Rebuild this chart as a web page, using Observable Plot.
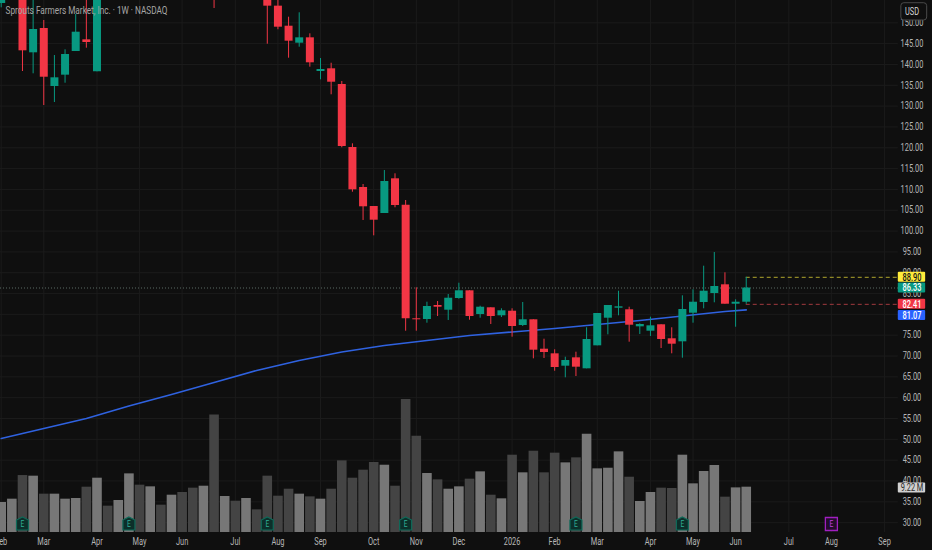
<!DOCTYPE html>
<html><head><meta charset="utf-8">
<style>html,body{margin:0;padding:0;background:#0f0f0f;overflow:hidden}svg{display:block}</style>
<script src="https://cdn.jsdelivr.net/npm/d3@7"></script>
<script src="https://cdn.jsdelivr.net/npm/@observablehq/plot@0.6"></script>
</head><body><div id="chart"></div>
<script>
const title = "Sprouts Farmers Market, Inc. · 1W · NASDAQ";
const firstWeek = "2025-02-03";
const opens = [154.64,158,158,142.80,148.64,134.71,137.43,143.11,145.92,138.24,162,158,161,167,164,167,165,168,166,164,167,160,163,161,164,160,154.0,149.19,145.11,146.40,138.31,138.96,135.19,120.07,110.46,105.90,104.22,112.55,106.21,78.94,78.77,82.13,81.00,83.81,85.66,79.97,81.58,79.66,80.76,77.33,78.70,71.64,70.53,67.56,69.57,66.93,72.45,79.08,81.48,81.10,77.01,75.96,77.50,74.14,73.41,80.28,82.85,85.01,87.10,82.44,82.92];
const closes = [158,165,143.28,148.40,136.94,136.80,142.39,147.75,145.28,162,158,161,167,164,167,165,168,166,164,167,160,163,161,164,160,154.0,148.95,145.59,146.40,140.40,138.79,135.74,120.31,109.91,105.83,102.61,111.90,106.14,78.94,78.70,81.89,81.72,83.88,85.66,79.49,81.72,79.49,80.86,77.09,78.70,71.40,70.85,67.24,68.92,67.32,73.97,80.21,82.13,81.82,77.40,77.57,77.25,73.97,72.84,81.17,82.92,85.56,86.69,82.44,82.92,86.33];
const highs = [160,167,160,157,150.56,142.15,143.52,152.00,157,164,165,163,169,170,169,169,170,171,168,170,169,166,165,167,166,162,155.5,151.35,152.41,147.36,141.43,140.30,135.91,120.95,111.18,105.90,114.54,113.75,107.34,86.38,82.92,83.09,84.77,87.48,85.66,81.96,81.58,81.34,81.34,82.85,78.70,74.04,71.49,69.72,70.92,76.78,80.21,82.13,85.56,81.72,77.74,79.32,77.50,76.78,84.46,85.90,91.57,94.86,89.98,83.50,88.90];
const lows = [153.6,157,138.31,137.76,130.15,130.87,135.50,143.11,143.91,138.24,156,156,158,162,162,163,163,164,161,162,153.44,158,157,159,157,144.87,148.33,141.51,144.15,139.35,136.32,132.72,120.0,109.33,102.54,98.86,104.22,105.59,75.96,75.96,77.88,79.49,78.53,83.64,78.60,79.08,77.57,79.25,74.52,77.09,69.33,69.40,66.35,64.77,65.08,66.93,72.45,75.09,79.66,73.32,75.17,74.69,71.80,70.53,69.48,77.88,81.34,82.78,82.44,76.92,82.41];
const volumes = [6.10,6.78,11.59,11.46,7.80,7.80,6.78,6.92,9.22,11.05,5.36,6.51,11.93,9.63,9.29,5.56,7.59,8.14,9.02,9.42,23.93,7.32,6.37,6.92,4.61,11.46,7.39,8.81,7.80,7.25,6.78,8.81,14.58,11.05,12.68,14.24,13.69,9.42,27.05,19.59,12.0,10.71,8.81,9.29,10.85,12.34,7.59,6.85,15.73,12.14,16.54,12.14,16.14,14.17,15.19,20.0,12.95,13.08,16.41,11.25,6.31,8.14,9.02,8.95,15.73,9.90,12.41,13.63,7.19,9.08,9.22];
const maDates = ["2025-02-03","2025-03-03","2025-03-31","2025-04-28","2025-05-26","2025-06-23","2025-07-21","2025-08-18","2025-09-15","2025-10-13","2025-11-10","2025-12-08","2026-01-05","2026-02-02","2026-03-02","2026-03-30","2026-04-27","2026-05-25","2026-06-08"];
const maValues = [50.2,52.6,55.0,58.0,60.76,63.64,66.52,68.92,70.96,72.53,73.72,74.93,75.77,76.61,77.57,78.53,79.61,80.69,81.07];
const priceTicks = d3.range(30,151,5);
const monthDates = ["2025-02-03","2025-03-03","2025-04-07","2025-05-05","2025-06-02","2025-07-07","2025-08-04","2025-09-01","2025-10-06","2025-11-03","2025-12-01","2026-01-05","2026-02-02","2026-03-02","2026-04-06","2026-05-04","2026-06-01","2026-07-06","2026-08-03","2026-09-07"];
const monthLabels = ["Feb","Mar","Apr","May","Jun","Jul","Aug","Sep","Oct","Nov","Dec","2026","Feb","Mar","Apr","May","Jun","Jul","Aug","Sep"];
const earningsPast = ["2025-02-17","2025-04-28","2025-07-28","2025-10-27","2026-02-16","2026-04-27"];
const earningsNext = ["2026-08-03"];
const priceLabels = [88.90,86.33,82.41,81.07];
const priceLabelFill = ["#ffeb3b","#089981","#f23645","#2962ff"];
const priceLabelText = ["#131313","#ffffff","#ffffff","#ffffff"];
const priceLabelShift = [0,0,0,5.6];
const lastVolume = 9.22, lastVolumeLabel = "9.22 M", currency = "USD";

const utc = s => new Date(s + "T00:00:00Z");
const candles = opens.map((o,i)=>({date:d3.utcDay.offset(utc(firstWeek),7*i),open:o,close:closes[i],high:highs[i],low:lows[i],volume:volumes[i],up:closes[i]>=o}));
const ma = maDates.map((d,i)=>({date:utc(d),value:maValues[i]}));
const months = monthDates.map(utc);

// volume pane shares the frame: it rises from the floor of the price range
const yFloor = 27.63, volK = 1.18;
const volY = v => yFloor + v*volK;

const xDomain = [new Date("2025-02-02T13:00:00Z"), new Date("2026-10-08T12:00:00Z")];
const lastDate = candles[candles.length-1].date;
const axisEnd = utc("2026-09-16");
const boxX1 = utc("2026-09-16"), boxX2 = utc("2026-10-04");
const labelX = utc("2026-09-25");

const FONT = "Roboto,sans-serif";
const RED="#f23645", GREEN="#089981";
const AX="#b6b6b6";

const house = {draw(c){c.moveTo(0,-7);c.lineTo(6,-4);c.lineTo(6,6);c.lineTo(-6,6);c.lineTo(-6,-4);c.closePath();}};
const pad = {draw(c){c.moveTo(-6,-6.5);c.lineTo(6,-6.5);c.lineTo(6,6.5);c.lineTo(-6,6.5);c.closePath();}};
const markerY = 29.67;
const ed = earningsPast.map(utc), en = earningsNext.map(utc);

const plot = Plot.plot({
  width:932,height:550,marginTop:0,marginRight:0,marginBottom:18,marginLeft:0,
  style:{background:"#0f0f0f",fontFamily:FONT,fontSize:"10px"},
  x:{type:"utc",domain:xDomain,range:[0,932]},
  y:{domain:[yFloor,155.36],range:[532,0]},
  marks:[
    Plot.ruleX(months,{x:d=>d,stroke:"#1b1b1b",strokeWidth:1}),
    Plot.ruleY(priceTicks,{y:d=>d,x1:xDomain[0],x2:axisEnd,stroke:"#1b1b1b",strokeWidth:1}),
    Plot.ruleX(candles,{x:"date",y1:yFloor,y2:d=>volY(d.volume),stroke:d=>d.up?"#777777":"#444444",strokeWidth:9.6,clip:true}),
    Plot.ruleY([closes[closes.length-1]],{x1:xDomain[0],x2:axisEnd,stroke:"#5b6b64",strokeWidth:1,strokeDasharray:"1 2"}),
    Plot.ruleY([highs[highs.length-1]],{x1:lastDate,x2:axisEnd,stroke:"#b0a52c",strokeWidth:1,strokeDasharray:"4 3"}),
    Plot.ruleY([lows[lows.length-1]],{x1:lastDate,x2:axisEnd,stroke:"#a23a3f",strokeWidth:1,strokeDasharray:"4 3"}),
    Plot.line(ma,{x:"date",y:"value",stroke:"#2f62e0",strokeWidth:1.6,clip:true}),
    Plot.ruleX(candles,{x:"date",y1:"low",y2:"high",stroke:d=>d.up?GREEN:RED,strokeWidth:1,clip:true}),
    Plot.ruleX(candles,{x:"date",y1:"open",y2:"close",stroke:d=>d.up?GREEN:RED,strokeWidth:8,clip:true}),
    Plot.dot(ed,{x:d=>d,y:markerY,symbol:house,r:6,fill:"#0c2f2a",stroke:"#0e6a59",strokeWidth:1.2}),
    Plot.text(ed,{x:d=>d,y:markerY,text:()=>"E",fill:"#2fae96",fontSize:9}),
    Plot.dot(en,{x:d=>d,y:markerY,symbol:pad,r:6,fill:"#240c2c",stroke:"#a01fc0",strokeWidth:1.3}),
    Plot.text(en,{x:d=>d,y:markerY,text:()=>"E",fill:"#c040e0",fontSize:9}),
    Plot.axisX({ticks:months,tickFormat:d=>monthLabels[months.findIndex(m=>+m===+d)],tickSize:0,tickPadding:5,color:AX,fontSize:10}),
    Plot.text(priceTicks,{x:()=>labelX,y:d=>d,text:d=>d.toFixed(2),fill:AX,fontSize:10}),
    Plot.rect([lastVolume],{x1:boxX1,x2:boxX2,y1:volY(lastVolume)-1.4,y2:volY(lastVolume)+1.0,fill:"#d0d0d0",rx:1}),
    Plot.text([lastVolumeLabel],{x:()=>labelX,y:volY(lastVolume)-0.2,text:d=>d,fill:"#2a2a2a",fontSize:10}),
    priceLabels.map((v,i)=>[
      Plot.rect([v],{x1:boxX1,x2:boxX2,y1:d=>d-1.2,y2:d=>d+1.2,dy:priceLabelShift[i],fill:priceLabelFill[i],rx:1}),
      Plot.text([v],{x:()=>labelX,y:d=>d,dy:priceLabelShift[i],text:d=>d.toFixed(2),fill:priceLabelText[i],fontSize:10,fontWeight:500})
    ]),
    Plot.rect([currency],{x1:utc("2026-09-18"),x2:utc("2026-10-05"),y1:150.56,y2:154.71,fill:"#0f0f0f",stroke:"#4a4a4a",rx:3}),
    Plot.text([currency],{x:()=>labelX,y:152.63,text:d=>d,fill:"#d8d8d8",fontSize:10}),
    Plot.text([title],{x:xDomain[0],y:155.36,text:d=>d,textAnchor:"start",lineAnchor:"top",dx:5,dy:6,fill:"#a6a6a6",fontSize:10.4})
  ]
});
document.getElementById("chart").append(plot);
// the reference's lettering is narrower than any installed face: squeeze horizontally, keep real text
plot.querySelectorAll("text").forEach(t=>{
  const w=t.getComputedTextLength();
  const isTitle=t.textContent===title;
  t.setAttribute("textLength",isTitle?162:(w*0.74).toFixed(1));
  t.setAttribute("lengthAdjust","spacingAndGlyphs");
});
</script></body></html>
